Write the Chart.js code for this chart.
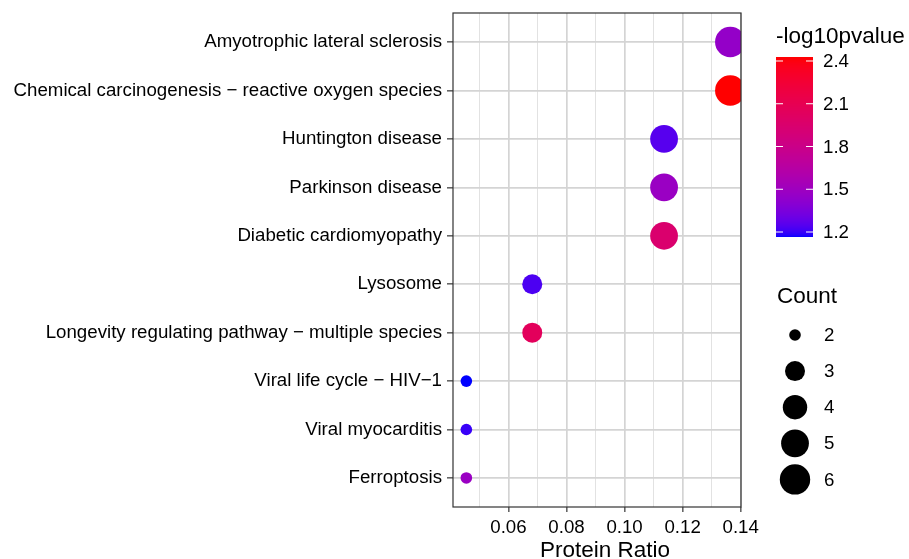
<!DOCTYPE html>
<html>
<head>
<meta charset="utf-8">
<script src="https://cdn.jsdelivr.net/npm/chart.js@4/dist/chart.umd.min.js"></script>
<style>
  html, body { margin: 0; padding: 0; background: #fff; }
  #wrap { width: 909px; height: 559px; }
</style>
</head>
<body>
<div id="wrap"><canvas id="myChart" width="909" height="559"></canvas></div>
<script>
const pathways = [
    "Amyotrophic lateral sclerosis",
    "Chemical carcinogenesis \u2212 reactive oxygen species",
    "Huntington disease",
    "Parkinson disease",
    "Diabetic cardiomyopathy",
    "Lysosome",
    "Longevity regulating pathway \u2212 multiple species",
    "Viral life cycle \u2212 HIV\u22121",
    "Viral myocarditis",
    "Ferroptosis"
];
const proteinRatio = [0.1364, 0.1364, 0.1136, 0.1136, 0.1136, 0.0682, 0.0682, 0.0455, 0.0455, 0.0455];
const counts = [6, 6, 5, 5, 5, 3, 3, 2, 2, 2];
const log10p = [1.45, 2.428, 1.25, 1.48, 1.95, 1.23, 2.05, 1.165, 1.20, 1.48];

const xMajorTicks = [0.06, 0.08, 0.10, 0.12, 0.14];
const xMinorTicks = [0.05, 0.07, 0.09, 0.11, 0.13];
const colorTicks = [1.2, 1.5, 1.8, 2.1, 2.4];
const countLegend = [2, 3, 4, 5, 6];

const FONT = "'Liberation Sans', Arial, Helvetica, sans-serif";

// colour ramp blue -> red interpolated in CIELAB (like ggplot2)
const lin = c => { c /= 255; return c <= 0.04045 ? c / 12.92 : Math.pow((c + 0.055) / 1.055, 2.4); };
const unlin = c => {
    const v = c <= 0.0031308 ? 12.92 * c : 1.055 * Math.pow(c, 1 / 2.4) - 0.055;
    return Math.round(Math.max(0, Math.min(1, v)) * 255);
};
const rgbToLab = ([r, g, b]) => {
    const R = lin(r), G = lin(g), B = lin(b);
    const X = (0.4124564 * R + 0.3575761 * G + 0.1804375 * B) / 0.95047;
    const Y = 0.2126729 * R + 0.7151522 * G + 0.0721750 * B;
    const Z = (0.0193339 * R + 0.1191920 * G + 0.9503041 * B) / 1.08883;
    const f = t => t > 0.008856 ? Math.cbrt(t) : 7.787 * t + 16 / 116;
    return [116 * f(Y) - 16, 500 * (f(X) - f(Y)), 200 * (f(Y) - f(Z))];
};
const labToRgb = ([L, a, b]) => {
    const fy = (L + 16) / 116, fx = a / 500 + fy, fz = fy - b / 200;
    const inv = t => t * t * t > 0.008856 ? t * t * t : (t - 16 / 116) / 7.787;
    const X = 0.95047 * inv(fx), Y = inv(fy), Z = 1.08883 * inv(fz);
    return [
        unlin(3.2404542 * X - 1.5371385 * Y - 0.4985314 * Z),
        unlin(-0.9692660 * X + 1.8760108 * Y + 0.0415560 * Z),
        unlin(0.0556434 * X - 0.2040259 * Y + 1.0572252 * Z)
    ];
};
const labLow = rgbToLab([0, 0, 255]);
const labHigh = rgbToLab([255, 0, 0]);
const cMin = Math.min(...log10p);
const cMax = Math.max(...log10p);
const colorFor = v => {
    const t = Math.max(0, Math.min(1, (v - cMin) / (cMax - cMin)));
    const lab = labLow.map((l, i) => l + (labHigh[i] - l) * t);
    const [r, g, b] = labToRgb(lab);
    return `rgb(${r},${g},${b})`;
};

const radiusFor = { 2: 5.8, 3: 10, 4: 12.2, 5: 13.9, 6: 15.2 };

const points = pathways.map((p, i) => ({ x: proteinRatio[i], y: i, r: radiusFor[counts[i]] }));

// panel border, x title and the two legends on the right
const sideLegends = {
    id: "sideLegends",
    afterDatasetsDraw(chart) {
        const c = chart.ctx;
        const a = chart.chartArea;
        c.save();
        c.strokeStyle = "#333";
        c.lineWidth = 1.2;
        c.strokeRect(a.left, a.top, a.right - a.left, a.bottom - a.top);

        c.fillStyle = "#000";
        c.font = `22.5px ${FONT}`;
        c.textAlign = "center";
        c.textBaseline = "alphabetic";
        c.fillText("Protein Ratio", 605, 557);

        // colour bar
        const bx = 776, bw = 37, bTop = 57, bBot = 237;
        c.textAlign = "left";
        c.fillText("-log10pvalue", 776, 43);
        for (let y = bTop; y < bBot; y++) {
            const v = cMax - (y + 0.5 - bTop) / (bBot - bTop) * (cMax - cMin);
            c.fillStyle = colorFor(v);
            c.fillRect(bx, y, bw, 1);
        }
        c.font = `18.7px ${FONT}`;
        c.textBaseline = "middle";
        colorTicks.forEach(v => {
            const y = bBot - (v - cMin) / (cMax - cMin) * (bBot - bTop);
            c.strokeStyle = "#fff";
            c.lineWidth = 1;
            c.beginPath();
            c.moveTo(bx, y); c.lineTo(bx + 7, y);
            c.moveTo(bx + bw - 7, y); c.lineTo(bx + bw, y);
            c.stroke();
            c.fillStyle = "#000";
            c.fillText(v.toFixed(1), 823, y + 1);
        });

        // size legend
        c.fillStyle = "#000";
        c.font = `22.5px ${FONT}`;
        c.textBaseline = "alphabetic";
        c.fillText("Count", 777, 303);
        c.font = `18.7px ${FONT}`;
        c.textBaseline = "middle";
        countLegend.forEach((n, i) => {
            const y = 335 + i * 36.1;
            c.fillStyle = "#000";
            c.beginPath();
            c.arc(795, y, radiusFor[n], 0, Math.PI * 2);
            c.fill();
            c.fillText(String(n), 824, y + 1);
        });
        c.restore();
    }
};

const isMajor = v => xMajorTicks.some(t => Math.abs(t - v) < 1e-6);

new Chart(document.querySelector("#myChart"), {
    type: "bubble",
    data: {
        datasets: [{
            data: points,
            backgroundColor: log10p.map(colorFor),
            borderWidth: 0,
            hoverBorderWidth: 0
        }]
    },
    options: {
        responsive: false,
        animation: false,
        events: [],
        layout: { autoPadding: false, padding: { left: 0, right: 168, top: 13, bottom: 0 } },
        plugins: { legend: { display: false }, tooltip: { enabled: false } },
        scales: {
            x: {
                type: "linear",
                min: 0.0409,
                max: 0.1401,
                afterBuildTicks: s => { s.ticks = [...xMinorTicks, ...xMajorTicks].sort((a, b) => a - b).map(v => ({ value: v })); },
                afterFit: s => { s.height = 52; s.paddingLeft = 0; s.paddingRight = 0; },
                ticks: {
                    autoSkip: false,
                    maxRotation: 0,
                    padding: 5,
                    color: "#000",
                    font: { family: FONT, size: 18.7 },
                    callback: v => isMajor(v) ? v.toFixed(2) : ""
                },
                grid: {
                    color: ctx => isMajor(ctx.tick.value) ? "#d4d4d4" : "#e2e2e2",
                    lineWidth: ctx => isMajor(ctx.tick.value) ? 1.7 : 1,
                    tickColor: ctx => isMajor(ctx.tick.value) ? "#333" : "rgba(0,0,0,0)",
                    tickWidth: 1.2,
                    tickLength: 5
                },
                border: { display: false }
            },
            y: {
                type: "linear",
                reverse: true,
                min: -0.6,
                max: 9.6,
                afterBuildTicks: s => { s.ticks = pathways.map((p, i) => ({ value: i })); },
                afterFit: s => { s.width = 453; s.paddingTop = 0; s.paddingBottom = 0; },
                ticks: {
                    autoSkip: false,
                    padding: 5,
                    color: "#000",
                    font: { family: FONT, size: 18.7 },
                    callback: v => pathways[v]
                },
                grid: {
                    color: "#d4d4d4",
                    lineWidth: 1.7,
                    tickColor: "#333",
                    tickWidth: 1.2,
                    tickLength: 6
                },
                border: { display: false }
            }
        }
    },
    plugins: [sideLegends]
});
</script>
</body>
</html>
